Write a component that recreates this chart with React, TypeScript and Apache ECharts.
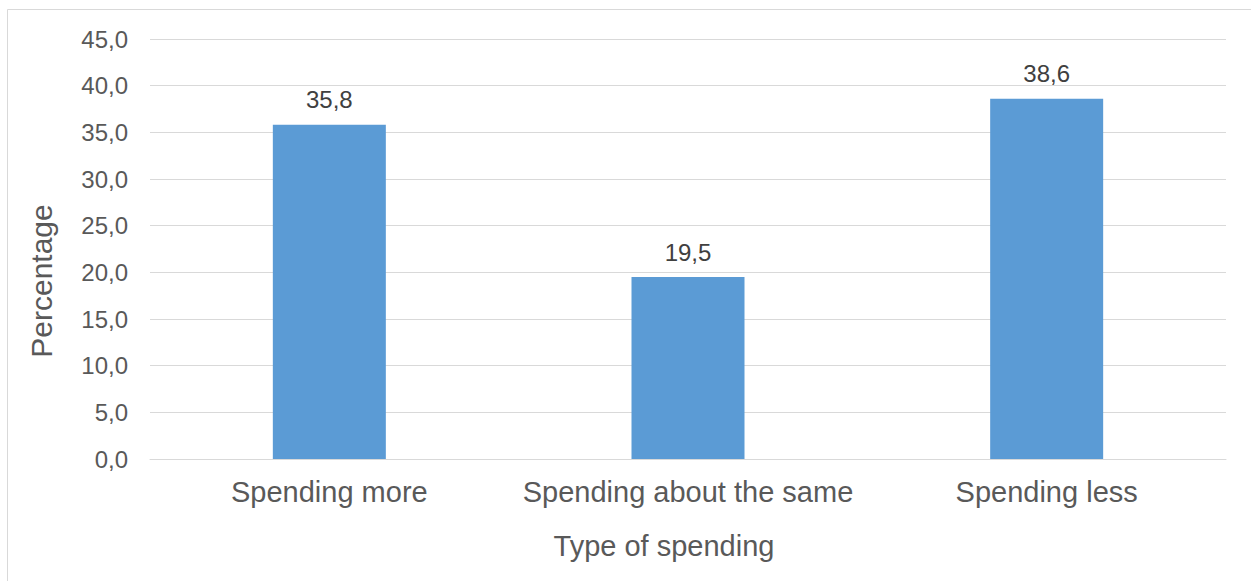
import React, { useEffect, useRef } from "react";
import * as echarts from "echarts";

const categories = ["Spending more", "Spending about the same", "Spending less"];
const values = [35.8, 19.5, 38.6];
const yTicks = { min: 0, max: 45, interval: 5 };
const xTitle = "Type of spending";
const yTitle = "Percentage";

const FONT = "'Liberation Sans', Arial, sans-serif";

export default function App() {
  const ref = useRef<HTMLDivElement>(null);
  useEffect(() => {
    if (!ref.current) return;
    const chart = echarts.init(ref.current, null, { renderer: "svg" });
    chart.setOption({
      animation: false,
      backgroundColor: "#ffffff",
      textStyle: { fontFamily: FONT },
      grid: { left: 150, right: 25, top: 39, bottom: 122, containLabel: false },
      xAxis: {
        type: "category",
        data: categories,
        axisLine: { show: true, lineStyle: { color: "#D9D9D9", width: 1 } },
        axisTick: { show: false },
        axisLabel: {
          color: "#595959",
          fontSize: 29,
          margin: 18,
          interval: 0,
          fontFamily: FONT,
        },
      },
      yAxis: {
        type: "value",
        min: yTicks.min,
        max: yTicks.max,
        interval: yTicks.interval,
        axisLine: { show: false },
        axisTick: { show: false },
        splitLine: { lineStyle: { color: "#D9D9D9", width: 1 } },
        axisLabel: {
          color: "#595959",
          fontSize: 24,
          margin: 22,
          fontFamily: FONT,
          formatter: (v: number) => v.toFixed(1).replace(".", ","),
        },
      },
      series: [
        {
          type: "bar",
          data: values,
          barWidth: 113,
          itemStyle: { color: "#5B9BD5" },
          label: {
            show: true,
            position: "top",
            distance: 13,
            color: "#404040",
            fontSize: 24,
            fontFamily: FONT,
            formatter: (p: any) => Number(p.value).toFixed(1).replace(".", ","),
          },
        },
      ],
      graphic: [
        {
          type: "rect",
          shape: { x: 7.5, y: 9.5, width: 1300, height: 600 },
          style: { fill: "none", stroke: "#D9D9D9", lineWidth: 1 },
          silent: true,
        },
        {
          type: "text",
          x: 664,
          y: 546,
          style: {
            text: xTitle,
            fontSize: 29,
            fontFamily: FONT,
            fill: "#595959",
            align: "center",
            verticalAlign: "middle",
          },
        },
        {
          type: "text",
          x: 41,
          y: 281,
          rotation: Math.PI / 2,
          style: {
            text: yTitle,
            fontSize: 30,
            fontFamily: FONT,
            fill: "#595959",
            align: "center",
            verticalAlign: "middle",
          },
        },
      ],
    });
    return () => chart.dispose();
  }, []);
  return (
    <div
      ref={ref}
      style={{ position: "fixed", left: 0, top: 0, width: 1251, height: 581 }}
    />
  );
}
